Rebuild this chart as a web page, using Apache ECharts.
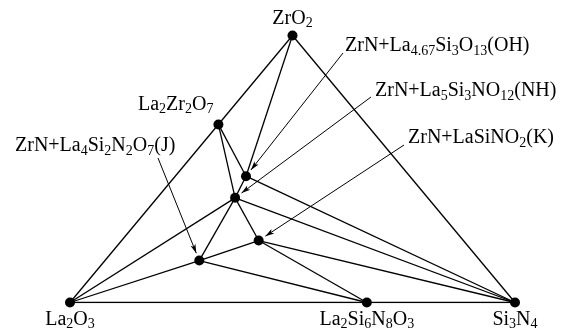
<!DOCTYPE html>
<html>
<head>
<meta charset="utf-8">
<script src="https://cdn.jsdelivr.net/npm/echarts@6/dist/echarts.min.js"></script>
<style>
  html, body { margin: 0; padding: 0; background: #fff; }
  #chart { width: 570px; height: 331px; }
</style>
</head>
<body>
<div id="chart"></div>
<script>
// Phases on the ZrO2–La2O3–Si3N4 section, as mole fractions of ZrO2 and Si3N4
// (the La2O3 fraction is the remainder).
const phaseIds  = ['ZrO2', 'La2O3', 'Si3N4', 'La2Zr2O7', 'La2Si6N8O3', 'OH', 'NH', 'K', 'J'];
const zro2Frac  = [1, 0, 0, 0.667, 0, 0.473, 0.392, 0.232, 0.157];
const si3n4Frac = [0, 0, 1, 0, 0.667, 0.159, 0.175, 0.308, 0.212];

// Phase names in rich-text form, {s|..} marks a subscript
const phaseLabels = ['ZrO{s|2}', 'La{s|2}O{s|3}', 'Si{s|3}N{s|4}', 'La{s|2}Zr{s|2}O{s|7}',
                     'La{s|2}Si{s|6}N{s|8}O{s|3}', '', '', '', ''];

// Compatibility tie lines between phases
const tieLines = [
  ['ZrO2', 'La2O3'], ['ZrO2', 'Si3N4'], ['La2O3', 'Si3N4'],
  ['ZrO2', 'OH'], ['La2Zr2O7', 'OH'], ['La2Zr2O7', 'NH'], ['OH', 'NH'],
  ['OH', 'Si3N4'], ['NH', 'Si3N4'], ['NH', 'La2O3'], ['NH', 'J'], ['NH', 'K'],
  ['J', 'La2O3'], ['J', 'K'], ['J', 'La2Si6N8O3'], ['K', 'La2Si6N8O3'], ['K', 'Si3N4']
];

// ZrN-containing assemblages called out with arrows
const calloutPhases = ['OH', 'NH', 'K', 'J'];
const calloutTexts = [
  'ZrN+La{s|4.67}Si{s|3}O{s|13}(OH)',
  'ZrN+La{s|5}Si{s|3}NO{s|12}(NH)',
  'ZrN+LaSiNO{s|2}(K)',
  'ZrN+La{s|4}Si{s|2}N{s|2}O{s|7}(J)'
];

// ---- layout / style ----
const FONT = "'Liberation Serif', 'Times New Roman', serif";
const MAIN_SIZE = 20, SUB_SIZE = 14, LINE_H = 24;
const richStyles = {
  s: { fontFamily: FONT, fontSize: SUB_SIZE, lineHeight: SUB_SIZE, verticalAlign: 'bottom', color: '#000' }
};
// Text anchor (left edge, vertical middle) and arrow tail for each callout, in pixels
const calloutLayout = [
  { tx: 345, ty: 46,  ax: 343, ay: 53 },
  { tx: 375, ty: 91,  ax: 371, ay: 97 },
  { tx: 408, ty: 138, ax: 404, ay: 145 },
  { tx: 15,  ty: 146, ax: 158, ay: 158 }
];
// Label placement for the named phases
const labelPlacement = {
  'ZrO2':       { position: 'top', distance: 0 },
  'La2O3':      { position: 'bottom', distance: 0 },
  'Si3N4':      { position: 'bottom', distance: 0 },
  'La2Zr2O7':   { position: 'left', distance: 0, offset: [0, -20] },
  'La2Si6N8O3': { position: 'bottom', distance: 0 }
};
const ARROW_GAP = 8;

// Ternary composition -> cartesian position in the unit frame
function toXY(id) {
  const i = phaseIds.indexOf(id);
  return [si3n4Frac[i] + zro2Frac[i] / 2, zro2Frac[i]];
}

const chart = echarts.init(document.getElementById('chart'), null, { renderer: 'canvas' });

const baseOption = {
  backgroundColor: '#fff',
  animation: false,
  grid: { left: 70, right: 55, top: 35.5, bottom: 28.5 },
  xAxis: { type: 'value', min: 0, max: 1, show: false },
  yAxis: { type: 'value', min: 0, max: 1, show: false },
  series: [
    {
      type: 'lines',
      coordinateSystem: 'cartesian2d',
      silent: true,
      lineStyle: { color: '#000', width: 1.3, opacity: 1 },
      data: tieLines.map(([a, b]) => ({ coords: [toXY(a), toXY(b)] }))
    },
    {
      type: 'scatter',
      silent: true,
      symbol: 'circle',
      symbolSize: 10,
      itemStyle: { color: '#000', opacity: 1 },
      z: 5,
      data: phaseIds.map((id, i) => {
        const item = { value: toXY(id) };
        if (phaseLabels[i]) {
          item.label = Object.assign({
            show: true,
            formatter: phaseLabels[i],
            fontFamily: FONT,
            fontSize: MAIN_SIZE,
            lineHeight: LINE_H,
            color: '#000',
            opacity: 1,
            rich: richStyles
          }, labelPlacement[id]);
        }
        return item;
      })
    }
  ]
};
chart.setOption(baseOption);

// Arrows: from the callout text to just short of the phase point
const arrowData = calloutPhases.map((id, k) => {
  const L = calloutLayout[k];
  const p = chart.convertToPixel({ gridIndex: 0 }, toXY(id));
  const dx = L.ax - p[0], dy = L.ay - p[1];
  const len = Math.hypot(dx, dy);
  const end = [p[0] + dx / len * ARROW_GAP, p[1] + dy / len * ARROW_GAP];
  return {
    coords: [
      chart.convertFromPixel({ gridIndex: 0 }, [L.ax, L.ay]),
      chart.convertFromPixel({ gridIndex: 0 }, end)
    ]
  };
});

chart.setOption({
  series: [
    {}, {},
    {
      type: 'lines',
      coordinateSystem: 'cartesian2d',
      silent: true,
      symbol: ['none', 'arrow'],
      symbolSize: [0, [4, 9]],
      lineStyle: { color: '#000', width: 1, opacity: 1 },
      itemStyle: { color: '#000' },
      data: arrowData
    }
  ],
  graphic: calloutTexts.map((t, k) => ({
    type: 'text',
    x: calloutLayout[k].tx,
    y: calloutLayout[k].ty,
    silent: true,
    style: {
      text: t,
      fontFamily: FONT,
      fontSize: MAIN_SIZE,
      lineHeight: LINE_H,
      fill: '#000',
      align: 'left',
      verticalAlign: 'middle',
      rich: richStyles
    }
  }))
});
</script>
</body>
</html>
